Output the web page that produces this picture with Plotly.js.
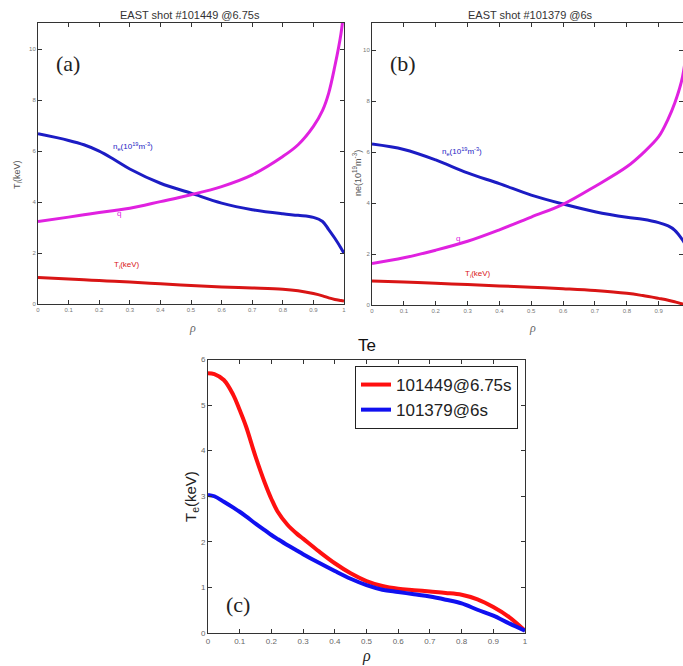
<!DOCTYPE html>
<html>
<head>
<meta charset="utf-8">
<script src="https://cdn.plot.ly/plotly-3.0.1.min.js"></script>
<style>
  html, body { margin: 0; padding: 0; background: #fff; }
  #plot { width: 683px; height: 666px; }
</style>
</head>
<body>
<div id="plot"></div>
<script>
// ---- Panel (a): EAST shot #101449 @6.75s ----
const rhoA = [0, 0.1, 0.15, 0.2, 0.25, 0.3, 0.4, 0.5, 0.6, 0.7, 0.8, 0.85, 0.9, 0.93, 0.95, 0.97, 0.99, 1.0];
const neA  = [6.68, 6.42, 6.25, 6.0, 5.66, 5.30, 4.74, 4.35, 3.96, 3.70, 3.54, 3.48, 3.40, 3.24, 2.92, 2.58, 2.2, 1.99];
const qA   = [3.24, 3.41, 3.50, 3.59, 3.67, 3.76, 4.02, 4.29, 4.61, 5.07, 5.79, 6.25, 6.97, 7.6, 8.28, 9.33, 10.6, 11.6];
const tiA  = [1.04, 0.98, 0.95, 0.92, 0.89, 0.86, 0.79, 0.73, 0.67, 0.63, 0.58, 0.52, 0.41, 0.32, 0.24, 0.18, 0.14, 0.12];

// ---- Panel (b): EAST shot #101379 @6s ----
const rhoB = [0, 0.1, 0.2, 0.3, 0.4, 0.5, 0.6, 0.7, 0.8, 0.85, 0.9, 0.93, 0.95, 0.975, 1.0];
const neB  = [6.31, 6.1, 5.69, 5.18, 4.76, 4.31, 3.96, 3.66, 3.44, 3.36, 3.23, 3.1, 2.94, 2.55, 2.0];
const qB   = [1.63, 1.85, 2.15, 2.5, 2.95, 3.45, 3.95, 4.65, 5.42, 5.95, 6.6, 7.3, 7.9, 8.95, 11.5];
const tiB  = [0.94, 0.90, 0.85, 0.80, 0.75, 0.70, 0.64, 0.57, 0.46, 0.37, 0.26, 0.19, 0.13, 0.04, 0.0];

// ---- Panel (c): electron temperature profiles ----
const rhoC = [0, 0.02, 0.05, 0.08, 0.1, 0.12, 0.15, 0.18, 0.2, 0.22, 0.25, 0.28, 0.3, 0.35, 0.4, 0.45,
              0.5, 0.55, 0.6, 0.65, 0.7, 0.75, 0.8, 0.85, 0.9, 0.95, 1.0];
const te101449 = [5.70, 5.68, 5.55, 5.22, 4.89, 4.53, 3.87, 3.28, 2.94, 2.66, 2.38, 2.18, 2.07, 1.79, 1.53, 1.31,
                  1.14, 1.03, 0.97, 0.94, 0.91, 0.88, 0.84, 0.74, 0.57, 0.35, 0.05];
const te101379 = [3.03, 3.0, 2.88, 2.75, 2.66, 2.56, 2.40, 2.25, 2.15, 2.06, 1.93, 1.81, 1.73, 1.54, 1.36, 1.19,
                  1.05, 0.95, 0.90, 0.85, 0.80, 0.73, 0.65, 0.51, 0.38, 0.21, 0.05];
const legendNames = ['101449@6.75s', '101379@6s'];

const tickValsX = [0, 0.1, 0.2, 0.3, 0.4, 0.5, 0.6, 0.7, 0.8, 0.9, 1];
const tickTextX = ['0', '0.1', '0.2', '0.3', '0.4', '0.5', '0.6', '0.7', '0.8', '0.9', '1'];

const W = 683, H = 666;
const px = x => x / W;
const py = y => 1 - y / H;

const BLUE = '#1c1cc4', MAG = '#e021e0', RED = '#d91515';

function line(x, y, color, width, xa, ya, name, show) {
  return {
    x: x, y: y, type: 'scatter', mode: 'lines', name: name || '',
    showlegend: !!show, xaxis: xa, yaxis: ya,
    line: {color: color, width: width, shape: 'spline', smoothing: 1},
    hoverinfo: 'skip'
  };
}

const traces = [
  line(rhoA, neA, BLUE, 3, 'x', 'y'),
  line(rhoA, qA, MAG, 3, 'x', 'y'),
  line(rhoA, tiA, RED, 3, 'x', 'y'),
  line(rhoB, neB, BLUE, 3, 'x2', 'y2'),
  line(rhoB, qB, MAG, 3, 'x2', 'y2'),
  line(rhoB, tiB, RED, 3, 'x2', 'y2'),
  line(rhoC, te101449, '#ff1010', 4, 'x3', 'y3', legendNames[0], true),
  line(rhoC, te101379, '#1010f0', 4, 'x3', 'y3', legendNames[1], true)
];

function xAxis(domain, range, anchor, fs, tcol) {
  return {
    domain: domain, range: range, anchor: anchor,
    tickmode: 'array', tickvals: tickValsX, ticktext: tickTextX,
    ticks: 'inside', ticklen: 4, tickcolor: '#333', mirror: 'ticks',
    showline: true, linecolor: '#333', linewidth: 1,
    showgrid: false, zeroline: false,
    tickfont: {family: 'Liberation Sans, Arial', size: fs, color: tcol},
    fixedrange: true
  };
}
function yAxis(domain, range, anchor, dtick, fs, tcol) {
  return {
    domain: domain, range: range, anchor: anchor,
    tick0: 0, dtick: dtick,
    ticks: 'inside', ticklen: 4, tickcolor: '#333', mirror: 'ticks',
    showline: true, linecolor: '#333', linewidth: 1,
    showgrid: false, zeroline: false,
    tickfont: {family: 'Liberation Sans, Arial', size: fs, color: tcol},
    fixedrange: true
  };
}

const sans = 'Liberation Sans, Arial';
const serif = 'Liberation Serif, Times New Roman';

function note(text, x, y, size, color, extra) {
  return Object.assign({
    text: text, x: px(x), y: py(y), xref: 'paper', yref: 'paper',
    showarrow: false, xanchor: 'center', yanchor: 'middle',
    font: {family: sans, size: size, color: color}
  }, extra || {});
}

const layout = {
  width: W, height: H,
  margin: {l: 0, r: 0, t: 0, b: 0},
  paper_bgcolor: '#fff', plot_bgcolor: '#fff',
  showlegend: true,
  legend: {
    x: px(518), y: py(366), xanchor: 'right', yanchor: 'top',
    bordercolor: '#222', borderwidth: 1, bgcolor: '#fff',
    font: {family: sans, size: 17, color: '#222'},
    tracegroupgap: 0, itemwidth: 30
  },
  xaxis:  xAxis([px(38), px(344)], [0, 1], 'y', 6, '#777'),
  yaxis:  yAxis([py(304), py(23)], [0, 11.03], 'x', 2, 6, '#777'),
  xaxis2: xAxis([px(372), 1], [0, (683 - 372) / 318.5], 'y2', 6, '#777'),
  yaxis2: yAxis([py(305), py(23)], [0, 11.06], 'x2', 2, 6, '#777'),
  xaxis3: xAxis([px(208), px(525)], [0, 1], 'y3', 8, '#666'),
  yaxis3: yAxis([py(633), py(359.5)], [0, 6], 'x3', 1, 8, '#666'),
  annotations: [
    // panel titles
    note('EAST shot #101449 @6.75s', 190, 15, 11, '#333'),
    note('EAST shot #101379 @6s', 530, 15, 11, '#333'),
    note('Te', 367, 346, 17, '#111'),
    // axis titles
    note('T<sub>i</sub>(keV)', 17, 175, 9, '#555', {textangle: -90}),
    note('ne(10<sup>19</sup>m<sup>-3</sup>)', 357, 173, 9, '#555', {textangle: -90}),
    note('T<sub>e</sub>(keV)', 191, 497, 15, '#222', {textangle: -90}),
    note('<i>ρ</i>', 192, 328, 12, '#666', {font: {family: serif, size: 12, color: '#666'}}),
    note('<i>ρ</i>', 532, 328, 12, '#666', {font: {family: serif, size: 12, color: '#666'}}),
    note('<i>ρ</i>', 366, 666, 16, '#222',
         {yanchor: 'bottom', borderpad: 0, font: {family: serif, size: 16, color: '#222'}}),
    // panel labels
    note('(a)', 68, 63, 22, '#222', {font: {family: serif, size: 22, color: '#222'}}),
    note('(b)', 403, 63, 22, '#222', {font: {family: serif, size: 22, color: '#222'}}),
    note('(c)', 238, 604, 22, '#222', {font: {family: serif, size: 22, color: '#222'}}),
    // curve labels, panel (a)
    note('n<sub>e</sub>(10<sup>19</sup>m<sup>-3</sup>)', 133, 147, 8, BLUE),
    note('q', 119, 213, 8, MAG),
    note('T<sub>i</sub>(keV)', 127, 265, 8, RED),
    // curve labels, panel (b)
    note('n<sub>e</sub>(10<sup>19</sup>m<sup>-3</sup>)', 462, 152, 8, BLUE),
    note('q', 458, 238, 8, MAG),
    note('T<sub>i</sub>(keV)', 478, 274, 8, RED)
  ]
};

Plotly.newPlot('plot', traces, layout, {displayModeBar: false, staticPlot: true});
</script>
</body>
</html>
